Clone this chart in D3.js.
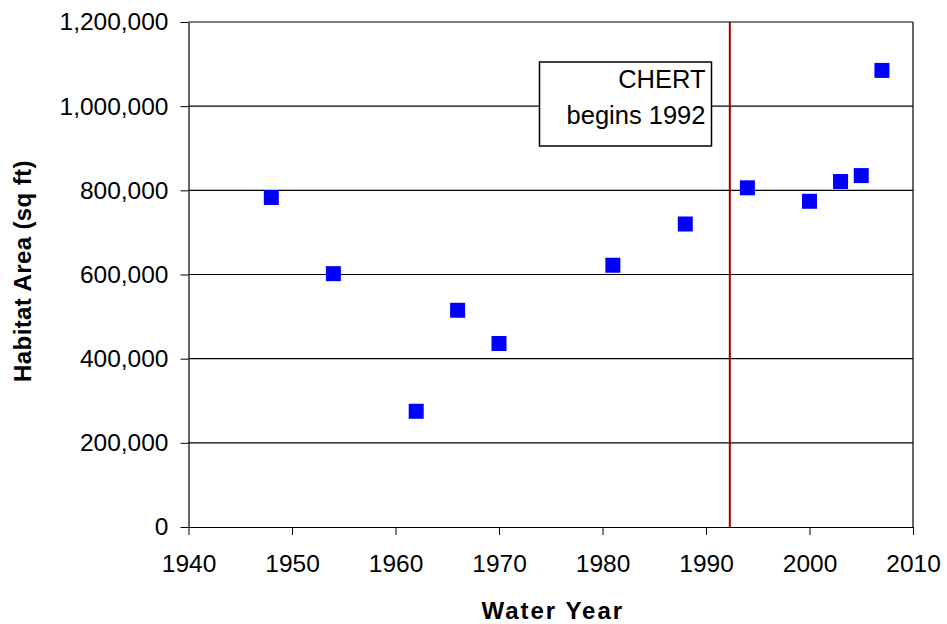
<!DOCTYPE html>
<html>
<head>
<meta charset="utf-8">
<script src="https://cdn.jsdelivr.net/npm/d3@7"></script>
<style>
  body { margin: 0; background: #fff; }
  svg { display: block; font-family: "Liberation Sans", Arial, sans-serif; }
  .tick text { font-size: 24.5px; fill: #000; }
  .tick line { stroke: #000; }
  .domain { stroke: #000; }
</style>
</head>
<body>
<svg width="947" height="624"></svg>
<script>
// water years and habitat area (sq ft)
var years = [1948, 1954, 1962, 1966, 1970, 1981, 1988, 1994, 2000, 2003, 2005, 2007];
var areas = [783000, 602000, 275000, 515000, 436000, 622000, 720000, 806000, 774000, 821000, 835000, 1085000];
var xTicks = [1940, 1950, 1960, 1970, 1980, 1990, 2000, 2010];
var yTicks = [0, 200000, 400000, 600000, 800000, 1000000, 1200000];
var chertYear = 1992.3;
var noteLines = ["CHERT", "begins 1992"];

var chart = (function(self){
  self.init = function(){
    var svg = d3.select("svg"),
        margin = {left: 188.5, right: 34, top: 22, bottom: 97},
        width = +svg.attr("width") - margin.left - margin.right,
        height = +svg.attr("height") - margin.top - margin.bottom,
        g = svg.append("g").attr("transform", "translate(" + margin.left + "," + margin.top + ")");

    var x = d3.scaleLinear().domain([1940, 2010]).range([0, width]);
    var y = d3.scaleLinear().domain([0, 1200000]).range([height, 0]);

    // horizontal gridlines
    g.selectAll(".grid")
        .data(yTicks.slice(1))
      .enter().append("line")
        .attr("class", "grid")
        .attr("x1", 0).attr("x2", width)
        .attr("y1", function(d) { return y(d); })
        .attr("y2", function(d) { return y(d); })
        .attr("stroke", "#000")
        .attr("stroke-width", 1.2);

    // right border
    g.append("line")
        .attr("x1", width).attr("x2", width)
        .attr("y1", 0).attr("y2", height)
        .attr("stroke", "#000").attr("stroke-width", 1.2);

    var xAxis = g.append("g")
        .attr("transform", "translate(0," + height + ")")
        .call(d3.axisBottom(x).tickValues(xTicks).tickFormat(d3.format("d")).tickSize(8).tickSizeOuter(0).tickPadding(20));
    xAxis.select(".domain").attr("stroke-width", 1.2);

    var yAxis = g.append("g")
        .call(d3.axisLeft(y).tickValues(yTicks).tickFormat(d3.format(",")).tickSize(8).tickSizeOuter(0).tickPadding(12));
    yAxis.select(".domain").attr("stroke-width", 1.2);

    // CHERT start line
    g.append("line")
        .attr("x1", x(chertYear)).attr("x2", x(chertYear))
        .attr("y1", 0).attr("y2", height)
        .attr("stroke", "#a00000")
        .attr("stroke-width", 2);

    // annotation box
    var note = g.append("g").attr("transform", "translate(351,40)");
    note.append("rect")
        .attr("width", 172).attr("height", 84)
        .attr("fill", "#fff")
        .attr("stroke", "#000")
        .attr("stroke-width", 1.5);
    note.selectAll("text")
        .data(noteLines)
      .enter().append("text")
        .attr("x", 166)
        .attr("y", function(d, i) { return 26 + i * 36; })
        .attr("text-anchor", "end")
        .attr("font-size", 25.5)
        .text(function(d) { return d; });

    // points
    var s = 15;
    g.selectAll(".pt")
        .data(years)
      .enter().append("rect")
        .attr("class", "pt")
        .attr("x", function(d) { return x(d) - s / 2; })
        .attr("y", function(d, i) { return y(areas[i]) - s / 2; })
        .attr("width", s).attr("height", s)
        .attr("fill", "#0000ff");

    // axis titles
    svg.append("text")
        .attr("x", margin.left + width / 2 + 2)
        .attr("y", 619)
        .attr("text-anchor", "middle")
        .attr("font-size", 24)
        .attr("font-weight", "bold")
        .attr("letter-spacing", 2)
        .text("Water Year");

    svg.append("text")
        .attr("transform", "translate(31,271) rotate(-90)")
        .attr("text-anchor", "middle")
        .attr("font-size", 24)
        .attr("font-weight", "bold")
        .attr("letter-spacing", 0.4)
        .text("Habitat Area (sq ft)");
  };
  return self;
})({});

chart.init();
</script>
</body>
</html>
